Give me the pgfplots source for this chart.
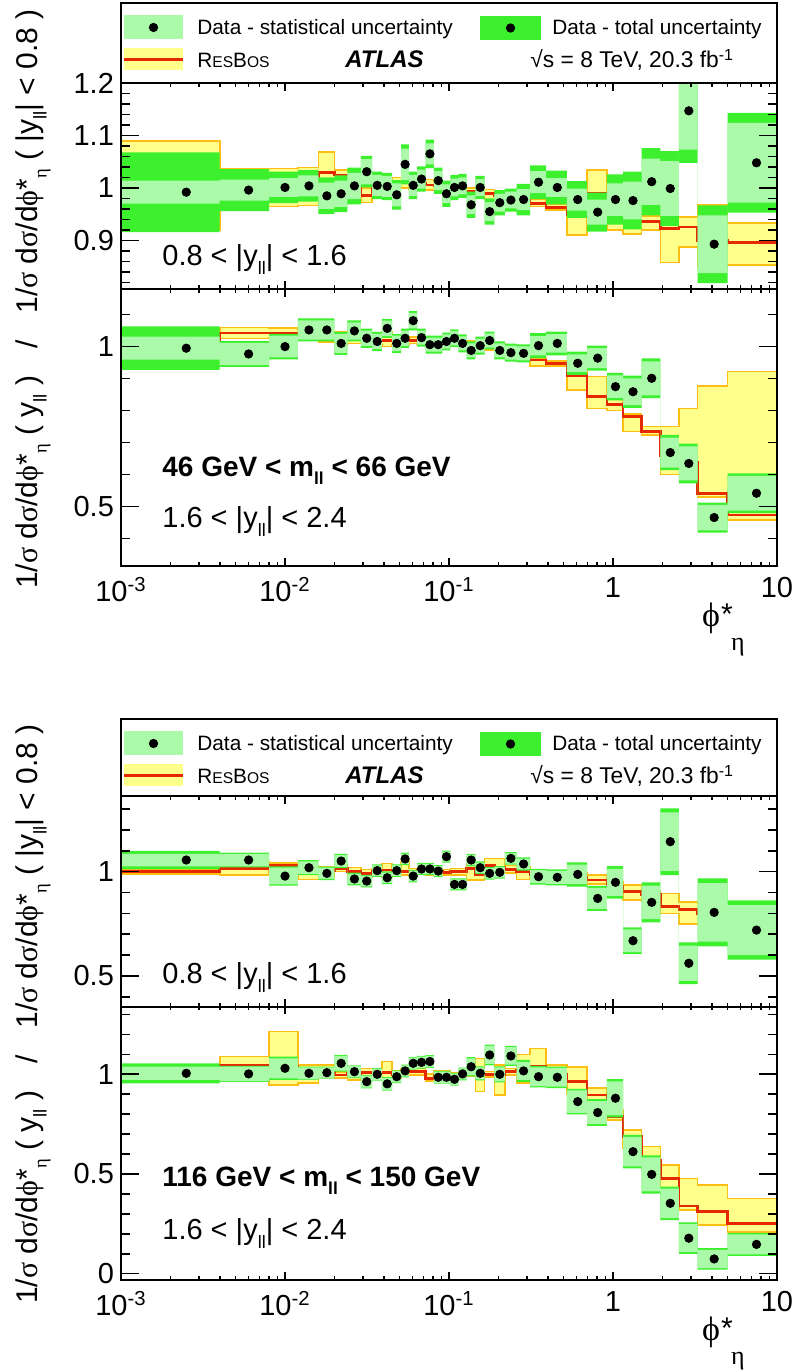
\documentclass[border=0pt]{standalone}
\usepackage{pgfplots}
\pgfplotsset{compat=1.18}
\usepackage{pgfplotstable}
\usepgfplotslibrary{fillbetween}
\usepackage{fontspec}
\setmainfont{Liberation Sans}
\newfontfamily\grk{Liberation Serif}

\definecolor{totgreen}{RGB}{60,240,45}
\definecolor{statgreen}{RGB}{170,250,170}
\definecolor{resyellow}{RGB}{255,255,140}
\definecolor{resorange}{RGB}{255,190,20}
\definecolor{resred}{RGB}{230,40,0}

\newcommand{\lowsub}[1]{\raisebox{-0.55ex}{\scalebox{0.62}{#1}}}
\newcommand{\ticklabfont}{\fontsize{14.5}{17}\selectfont}
\newcommand{\annfont}{\fontsize{14.5}{17}\selectfont}
\newcommand{\annbold}{\fontsize{14}{17}\selectfont\bfseries}
\newcommand{\legfont}{\fontsize{10.4}{12}\selectfont}
\newcommand{\atlasfont}{\fontsize{12}{14}\selectfont\bfseries\itshape}
\newcommand{\sqfont}{\fontsize{11.4}{13}\selectfont}
\newcommand{\ylab}{1/{\grk σ} d{\grk σ}/d{\grk ϕ}*\lowsub{\grk η} ( y\lowsub{ll} )\hspace{0.9em}/\hspace{0.9em}1/{\grk σ} d{\grk σ}/d{\grk ϕ}*\lowsub{\grk η} ( |y\lowsub{ll}| < 0.8 )}

% columns: lo = bin low edge, x = bin centre, d = data, s = stat, t = total, r = ResBos, rl/rh = ResBos band
\pgfplotstableread{
lo x d s t r rl rh
0.0005 0.0025 0.992 0.022 0.076 1.000 0.920 1.090
0.004 0.006 0.996 0.020 0.040 1.000 0.965 1.037
0.008 0.010 1.001 0.018 0.030 1.000 0.965 1.037
0.012 0.014 1.004 0.020 0.030 1.002 0.967 1.039
0.016 0.018 0.985 0.025 0.035 1.029 0.990 1.069
0.020 0.022 0.989 0.025 0.035 1.025 1.010 1.034
0.024 0.0265 1.004 0.025 0.035 1.020 1.000 1.035
0.029 0.0315 1.031 0.024 0.030 0.986 0.972 1.000
0.034 0.0365 1.005 0.020 0.026 1.010 1.000 1.018
0.039 0.042 1.003 0.020 0.026 1.005 0.995 1.015
0.045 0.048 0.987 0.022 0.028 1.013 1.003 1.020
0.051 0.054 1.045 0.030 0.038 1.010 1.000 1.020
0.057 0.0605 1.005 0.020 0.026 1.008 0.998 1.018
0.064 0.068 1.017 0.018 0.024 1.008 0.997 1.020
0.072 0.0765 1.065 0.020 0.027 1.006 0.996 1.016
0.081 0.086 1.014 0.018 0.025 1.004 0.995 1.012
0.091 0.0965 0.989 0.018 0.025 1.000 0.990 1.010
0.102 0.108 1.001 0.017 0.024 0.998 0.990 1.008
0.114 0.121 1.004 0.016 0.023 0.993 0.985 1.000
0.128 0.1365 0.968 0.018 0.025 0.993 0.985 1.000
0.145 0.155 1.001 0.016 0.022 0.990 0.983 0.998
0.165 0.177 0.955 0.018 0.025 0.989 0.978 0.997
0.189 0.204 0.972 0.017 0.024 0.985 0.977 0.993
0.219 0.2385 0.977 0.016 0.022 0.982 0.974 0.990
0.258 0.285 0.978 0.020 0.030 0.978 0.970 0.987
0.312 0.3515 1.011 0.021 0.032 0.971 0.965 0.978
0.391 0.4575 1.001 0.018 0.032 0.963 0.958 0.970
0.524 0.6095 0.978 0.021 0.035 0.950 0.910 0.970
0.695 0.8065 0.954 0.024 0.037 0.990 0.987 1.034
0.918 1.0355 0.978 0.031 0.048 0.935 0.920 0.960
1.153 1.3245 0.976 0.036 0.055 0.935 0.912 0.960
1.496 1.7215 1.012 0.044 0.064 0.936 0.920 0.947
1.947 2.2345 0.999 0.052 0.071 0.923 0.858 0.945
2.522 2.8995 1.147 0.074 0.099 0.926 0.888 0.945
3.277 4.1385 0.893 0.055 0.074 0.900 0.850 0.968
5 7.5 1.048 0.076 0.095 0.896 0.853 0.933
10 10 1.048 0.076 0.095 0.896 0.853 0.933
}\tabA

\pgfplotstableread{
lo x d s t r rl rh
0.0005 0.0025 0.995 0.036 0.068 1.000 0.960 1.040
0.004 0.006 0.977 0.035 0.040 1.042 1.025 1.060
0.008 0.010 1.000 0.034 0.040 1.042 1.028 1.058
0.012 0.014 1.052 0.030 0.036 1.035 1.020 1.050
0.016 0.018 1.052 0.030 0.036 1.030 1.015 1.045
0.020 0.022 1.010 0.030 0.036 1.025 1.005 1.045
0.024 0.0265 1.049 0.027 0.033 1.025 1.010 1.040
0.029 0.0315 1.026 0.024 0.030 1.022 1.010 1.035
0.034 0.0365 1.016 0.024 0.030 1.020 1.005 1.035
0.039 0.042 1.057 0.024 0.030 1.020 1.000 1.045
0.045 0.048 1.010 0.024 0.030 1.020 1.005 1.035
0.051 0.054 1.026 0.024 0.030 1.018 1.005 1.030
0.057 0.0605 1.081 0.024 0.030 1.020 1.010 1.030
0.064 0.068 1.028 0.022 0.028 1.020 1.008 1.030
0.072 0.0765 1.006 0.022 0.028 1.015 1.005 1.025
0.081 0.086 1.006 0.022 0.028 1.015 1.005 1.025
0.091 0.0965 1.016 0.022 0.028 1.012 1.003 1.022
0.102 0.108 1.026 0.022 0.028 1.012 1.002 1.022
0.114 0.121 1.010 0.022 0.028 1.010 1.000 1.020
0.128 0.1365 0.988 0.022 0.028 1.008 0.998 1.018
0.145 0.155 1.003 0.022 0.028 1.005 0.995 1.015
0.165 0.177 1.019 0.022 0.028 1.000 0.990 1.010
0.189 0.204 0.988 0.022 0.028 0.998 0.988 1.008
0.219 0.2385 0.981 0.022 0.028 0.995 0.985 1.005
0.258 0.285 0.979 0.022 0.028 0.990 0.980 1.000
0.312 0.3515 1.003 0.030 0.039 0.958 0.940 0.965
0.391 0.4575 1.010 0.029 0.037 0.948 0.940 0.955
0.524 0.6095 0.948 0.028 0.036 0.910 0.865 0.940
0.695 0.8065 0.964 0.031 0.039 0.844 0.807 0.906
0.918 1.0355 0.875 0.035 0.043 0.820 0.800 0.845
1.153 1.3245 0.859 0.042 0.050 0.781 0.735 0.790
1.496 1.7215 0.901 0.053 0.062 0.734 0.724 0.750
1.947 2.2345 0.669 0.047 0.055 0.660 0.600 0.750
2.522 2.8995 0.635 0.053 0.062 0.640 0.600 0.807
3.277 4.1385 0.466 0.040 0.047 0.542 0.531 0.877
5 7.5 0.542 0.054 0.062 0.474 0.458 0.922
10 10 0.542 0.054 0.062 0.474 0.458 0.922
}\tabB

\pgfplotstableread{
lo x d s t r rl rh
0.0005 0.0025 1.056 0.030 0.044 1.000 0.990 1.010
0.004 0.006 1.056 0.030 0.035 1.016 0.984 1.048
0.008 0.010 0.979 0.040 0.046 1.029 1.005 1.043
0.012 0.014 1.019 0.030 0.036 1.003 0.963 1.029
0.016 0.018 0.992 0.027 0.032 1.003 0.976 1.024
0.020 0.022 1.051 0.028 0.034 1.016 1.000 1.032
0.024 0.0265 0.965 0.025 0.030 1.000 0.980 1.020
0.029 0.0315 0.955 0.025 0.030 0.992 0.976 1.011
0.034 0.0365 1.005 0.025 0.030 1.000 0.985 1.015
0.039 0.042 0.971 0.025 0.030 1.008 0.976 1.040
0.045 0.048 1.005 0.025 0.030 1.000 0.985 1.015
0.051 0.054 1.061 0.025 0.030 1.000 0.985 1.048
0.057 0.0605 0.979 0.025 0.030 1.000 0.985 1.015
0.064 0.068 1.013 0.024 0.029 1.005 0.990 1.015
0.072 0.0765 1.013 0.024 0.029 0.997 0.985 1.010
0.081 0.086 1.003 0.024 0.029 1.000 0.988 1.012
0.091 0.0965 1.072 0.024 0.029 0.997 0.985 1.010
0.102 0.108 0.939 0.024 0.029 1.000 0.985 1.015
0.114 0.121 0.939 0.024 0.029 1.000 0.985 1.015
0.128 0.1365 1.056 0.025 0.030 1.016 0.960 1.040
0.145 0.155 1.019 0.025 0.030 0.984 0.960 1.016
0.165 0.177 0.992 0.025 0.030 1.030 1.010 1.064
0.189 0.204 0.997 0.025 0.030 1.020 0.995 1.064
0.219 0.2385 1.064 0.025 0.030 1.011 0.995 1.030
0.258 0.285 1.037 0.026 0.032 1.000 0.963 1.024
0.312 0.3515 0.976 0.031 0.038 0.984 0.970 1.000
0.391 0.4575 0.973 0.031 0.038 0.984 0.970 1.000
0.524 0.6095 0.987 0.047 0.058 0.975 0.950 0.995
0.695 0.8065 0.872 0.050 0.060 0.960 0.940 0.985
0.918 1.0355 0.949 0.065 0.078 0.930 0.910 0.950
1.153 1.3245 0.669 0.055 0.064 0.904 0.864 0.936
1.496 1.7215 0.853 0.080 0.096 0.890 0.860 0.910
1.947 2.2345 1.144 0.140 0.160 0.832 0.800 0.896
2.522 2.8995 0.561 0.085 0.100 0.820 0.750 0.856
3.277 4.1385 0.805 0.140 0.163 0.800 0.750 0.850
5 7.5 0.720 0.120 0.142 0.800 0.750 0.850
10 10 0.720 0.120 0.142 0.800 0.750 0.850
}\tabC

\pgfplotstableread{
lo x d s t r rl rh
0.0005 0.0025 1.005 0.033 0.050 1.000 0.970 1.030
0.004 0.006 1.002 0.036 0.040 1.047 1.000 1.089
0.008 0.010 1.030 0.050 0.058 1.040 0.947 1.214
0.012 0.014 1.005 0.030 0.033 1.020 0.955 1.047
0.016 0.018 1.008 0.027 0.030 1.030 0.990 1.047
0.020 0.022 1.055 0.037 0.042 0.997 0.980 1.013
0.024 0.0265 1.013 0.028 0.032 1.005 0.970 1.030
0.029 0.0315 0.963 0.030 0.034 1.008 0.990 1.030
0.034 0.0365 1.000 0.028 0.032 1.008 0.985 1.030
0.039 0.042 0.952 0.030 0.034 1.008 0.980 1.064
0.045 0.048 0.988 0.028 0.032 1.000 0.980 1.020
0.051 0.054 1.017 0.028 0.032 1.013 0.995 1.030
0.057 0.0605 1.055 0.028 0.032 1.013 0.995 1.030
0.064 0.068 1.060 0.028 0.032 1.013 0.995 1.030
0.072 0.0765 1.064 0.028 0.032 0.980 0.965 1.000
0.081 0.086 0.985 0.028 0.032 0.997 0.980 1.020
0.091 0.0965 0.985 0.028 0.032 0.997 0.980 1.020
0.102 0.108 0.975 0.028 0.032 0.997 0.985 1.010
0.114 0.121 1.002 0.028 0.032 0.997 0.985 1.010
0.128 0.1365 1.038 0.042 0.048 1.005 0.990 1.030
0.145 0.155 1.005 0.030 0.035 1.000 0.913 1.080
0.165 0.177 1.097 0.045 0.052 1.000 0.985 1.015
0.189 0.204 1.000 0.035 0.040 1.000 0.896 1.047
0.219 0.2385 1.092 0.044 0.050 1.013 0.995 1.030
0.258 0.285 1.017 0.045 0.055 1.020 0.955 1.100
0.312 0.3515 0.988 0.047 0.054 1.040 0.970 1.130
0.391 0.4575 0.985 0.047 0.054 1.000 0.960 1.047
0.524 0.6095 0.863 0.056 0.064 0.963 0.900 1.038
0.695 0.8065 0.808 0.058 0.067 0.896 0.863 0.930
0.918 1.0355 0.880 0.085 0.096 0.787 0.770 0.820
1.153 1.3245 0.612 0.074 0.084 0.687 0.630 0.720
1.496 1.7215 0.498 0.085 0.096 0.570 0.530 0.637
1.947 2.2345 0.353 0.074 0.084 0.478 0.430 0.545
2.522 2.8995 0.178 0.070 0.079 0.340 0.320 0.478
3.277 4.1385 0.074 0.046 0.054 0.311 0.244 0.445
5 7.5 0.147 0.050 0.058 0.253 0.210 0.378
10 10 0.147 0.050 0.058 0.253 0.210 0.378
}\tabD

\newcommand{\panelplots}[1]{%
  \addplot[name path=RL, draw=none, const plot mark left] table[x=lo,y=rl]{#1};
  \addplot[name path=RH, draw=none, const plot mark left] table[x=lo,y=rh]{#1};
  \addplot[name path=RC, draw=none, const plot mark left] table[x=lo,y=r]{#1};
  \addplot[fill=resyellow, draw=resorange, line width=0.8pt] fill between[of=RH and RL];
  \addplot[fill=none, draw=resred, line width=1.3pt] fill between[of=RC and RC];
  \addplot[name path=TL, draw=none, const plot mark left] table[x=lo,y expr={\thisrow{d}-\thisrow{t}}]{#1};
  \addplot[name path=TH, draw=none, const plot mark left] table[x=lo,y expr={\thisrow{d}+\thisrow{t}}]{#1};
  \addplot[fill=totgreen, draw=none] fill between[of=TH and TL];
  \addplot[name path=SL, draw=none, const plot mark left] table[x=lo,y expr={\thisrow{d}-\thisrow{s}}]{#1};
  \addplot[name path=SH, draw=none, const plot mark left] table[x=lo,y expr={\thisrow{d}+\thisrow{s}}]{#1};
  \addplot[fill=statgreen, draw=none] fill between[of=SH and SL];
  \addplot[only marks, mark=*, mark size=2.1pt, black, skip coords between index={36}{37}] table[x=x,y=d]{#1};
}

\newcommand{\legendcontent}{%
  \fill[statgreen] (axis cs:124,12.5) rectangle (axis cs:183,36.5);
  \fill[totgreen] (axis cs:480,13) rectangle (axis cs:541,37);
  \fill[resyellow] (axis cs:124,45.5) rectangle (axis cs:183,67.5);
  \draw[resred, line width=1.3pt] (axis cs:124,56.5) -- (axis cs:183,56.5);
  \addplot[only marks, mark=*, mark size=2.1pt, black] coordinates {(153.5,24.5) (510.5,25)};
  \node[anchor=base west, font=\legfont, inner sep=0] at (axis cs:197,31.7) {Data - statistical uncertainty};
  \node[anchor=base west, font=\legfont, inner sep=0] at (axis cs:552,31.7) {Data - total uncertainty};
  \node[anchor=base west, font=\legfont, inner sep=0] at (axis cs:197,65) {R{\fontsize{7.8}{9}\selectfont ES}B{\fontsize{7.8}{9}\selectfont OS}};
  \node[anchor=base west, font=\atlasfont, inner sep=0] at (axis cs:345,65) {ATLAS};
  \node[anchor=base west, font=\sqfont, inner sep=0] at (axis cs:530,65) {√s = 8 TeV, 20.3 fb\textsuperscript{-1}};
}

\pgfplotsset{
  every tick/.style={black, line width=0.8pt},
  every x tick/.append style={/pgfplots/major tick length=3.8pt, /pgfplots/minor tick length=1.9pt},
  tick label style={font=\ticklabfont},
}

\begin{document}
\begin{tikzpicture}
\path (0,0) rectangle (398pt,686pt);

% ---------------- top group ----------------
\begin{axis}[at={(60.5pt,644.5pt)}, anchor=south west, scale only axis, width=328pt, height=40pt,
  xmin=121, xmax=777, ymin=0, ymax=80, y dir=reverse,
  xtick=\empty, ytick=\empty, axis line style={line width=1pt}, clip=false]
\legendcontent
\end{axis}

\begin{axis}[at={(60.5pt,541.5pt)}, anchor=south west, scale only axis, width=328pt, height=103pt,
  set layers=standard, axis on top,
  xmode=log, xmin=0.001, xmax=10, ymin=0.8076, ymax=1.2,
  axis line style={line width=1pt}, tick align=inside,
  major tick length=8.8pt, minor tick length=4.5pt,
  xtick={0.001,0.01,0.1,1,10},
  minor xtick={0.002,0.003,0.004,0.005,0.006,0.007,0.008,0.009,0.02,0.03,0.04,0.05,0.06,0.07,0.08,0.09,0.2,0.3,0.4,0.5,0.6,0.7,0.8,0.9,2,3,4,5,6,7,8,9},
  xticklabels={},
  ytick={0.9,1,1.1,1.2}, yticklabels={0.9,1,1.1,1.2},
  minor ytick={0.82,0.84,0.86,0.88,0.92,0.94,0.96,0.98,1.02,1.04,1.06,1.08,1.12,1.14,1.16,1.18}]
\panelplots{\tabA}
\end{axis}

\begin{axis}[at={(60.5pt,403pt)}, anchor=south west, scale only axis, width=328pt, height=138.5pt,
  set layers=standard, axis on top,
  xmode=log, xmin=0.001, xmax=10, ymin=0.3147, ymax=1.18,
  axis line style={line width=1pt}, tick align=inside,
  major tick length=8.8pt, minor tick length=4.5pt,
  xtick={0.001,0.01,0.1,1,10},
  minor xtick={0.002,0.003,0.004,0.005,0.006,0.007,0.008,0.009,0.02,0.03,0.04,0.05,0.06,0.07,0.08,0.09,0.2,0.3,0.4,0.5,0.6,0.7,0.8,0.9,2,3,4,5,6,7,8,9},
  xticklabels={10\textsuperscript{-3},10\textsuperscript{-2},10\textsuperscript{-1},1,10},
  xticklabel style={yshift=-2pt},
  ytick={0.5,1}, yticklabels={0.5,1},
  minor ytick={0.4,0.6,0.7,0.8,0.9,1.1}]
\panelplots{\tabB}
\end{axis}

% ---------------- bottom group ----------------
\begin{axis}[at={(60.5pt,288pt)}, anchor=south west, scale only axis, width=328pt, height=38.5pt,
  xmin=121, xmax=777, ymin=0, ymax=77, y dir=reverse,
  xtick=\empty, ytick=\empty, axis line style={line width=1pt}, clip=false]
\legendcontent
\end{axis}

\begin{axis}[at={(60.5pt,182.65pt)}, anchor=south west, scale only axis, width=328pt, height=105.35pt,
  set layers=standard, axis on top,
  xmode=log, xmin=0.001, xmax=10, ymin=0.3528, ymax=1.3629,
  axis line style={line width=1pt}, tick align=inside,
  major tick length=8.8pt, minor tick length=4.5pt,
  xtick={0.001,0.01,0.1,1,10},
  minor xtick={0.002,0.003,0.004,0.005,0.006,0.007,0.008,0.009,0.02,0.03,0.04,0.05,0.06,0.07,0.08,0.09,0.2,0.3,0.4,0.5,0.6,0.7,0.8,0.9,2,3,4,5,6,7,8,9},
  xticklabels={},
  ytick={0.5,1}, yticklabels={0.5,1},
  minor ytick={0.4,0.6,0.7,0.8,0.9,1.1,1.2,1.3}]
\panelplots{\tabC}
\end{axis}

\begin{axis}[at={(60.5pt,46pt)}, anchor=south west, scale only axis, width=328pt, height=136.65pt,
  set layers=standard, axis on top,
  xmode=log, xmin=0.001, xmax=10, ymin=-0.0316, ymax=1.339,
  axis line style={line width=1pt}, tick align=inside,
  major tick length=8.8pt, minor tick length=4.5pt,
  xtick={0.001,0.01,0.1,1,10},
  minor xtick={0.002,0.003,0.004,0.005,0.006,0.007,0.008,0.009,0.02,0.03,0.04,0.05,0.06,0.07,0.08,0.09,0.2,0.3,0.4,0.5,0.6,0.7,0.8,0.9,2,3,4,5,6,7,8,9},
  xticklabels={10\textsuperscript{-3},10\textsuperscript{-2},10\textsuperscript{-1},1,10},
  xticklabel style={yshift=-2pt},
  ytick={0,0.5,1}, yticklabels={0,0.5,1},
  minor ytick={0.1,0.2,0.3,0.4,0.6,0.7,0.8,0.9,1.1,1.2,1.3}]
\panelplots{\tabD}
\end{axis}

% annotations
\node[anchor=base west, font=\annfont, inner sep=0] at (81pt,553pt) {0.8 < |y\lowsub{ll}| < 1.6};
\node[anchor=base west, font=\annbold, inner sep=0] at (81pt,447.65pt) {46 GeV < m\lowsub{ll} < 66 GeV};
\node[anchor=base west, font=\annfont, inner sep=0] at (81pt,422pt) {1.6 < |y\lowsub{ll}| < 2.4};
\node[anchor=base west, font=\annfont, inner sep=0] at (81pt,194pt) {0.8 < |y\lowsub{ll}| < 1.6};
\node[anchor=base west, font=\annbold, inner sep=0] at (81pt,92.65pt) {116 GeV < m\lowsub{ll} < 150 GeV};
\node[anchor=base west, font=\annfont, inner sep=0] at (81pt,66pt) {1.6 < |y\lowsub{ll}| < 2.4};

% x labels
\node[font=\grk\fontsize{17}{19}\selectfont, inner sep=0] at (355.5pt,377pt) {ϕ};
\node[font=\fontsize{15}{17}\selectfont, inner sep=0] at (363.5pt,379pt) {*};
\node[font=\grk\fontsize{13}{15}\selectfont, inner sep=0] at (369pt,362.25pt) {η};
\node[font=\grk\fontsize{17}{19}\selectfont, inner sep=0] at (355.5pt,20pt) {ϕ};
\node[font=\fontsize{15}{17}\selectfont, inner sep=0] at (363.5pt,22pt) {*};
\node[font=\grk\fontsize{13}{15}\selectfont, inner sep=0] at (369pt,5.25pt) {η};

% y labels
\node[rotate=90, anchor=base, font=\fontsize{15}{17}\selectfont, inner sep=0] at (19pt,536.5pt) {\ylab};
\node[rotate=90, anchor=base, font=\fontsize{15}{17}\selectfont, inner sep=0] at (19pt,179pt) {\ylab};
\end{tikzpicture}
\end{document}
